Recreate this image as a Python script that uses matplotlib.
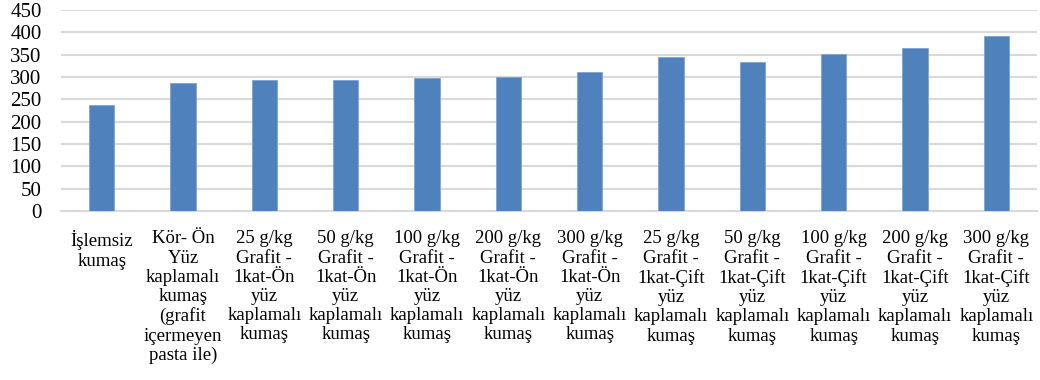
import matplotlib
matplotlib.use("Agg")
import matplotlib.pyplot as plt
import numpy as np

categories = [
    "İşlemsiz\nkumaş",
    "Kör- Ön\nYüz\nkaplamalı\nkumaş\n(grafit\niçermeyen\npasta ile)",
    "25 g/kg\nGrafit -\n1kat-Ön\nyüz\nkaplamalı\nkumaş",
    "50 g/kg\nGrafit -\n1kat-Ön\nyüz\nkaplamalı\nkumaş",
    "100 g/kg\nGrafit -\n1kat-Ön\nyüz\nkaplamalı\nkumaş",
    "200 g/kg\nGrafit -\n1kat-Ön\nyüz\nkaplamalı\nkumaş",
    "300 g/kg\nGrafit -\n1kat-Ön\nyüz\nkaplamalı\nkumaş",
    "25 g/kg\nGrafit -\n1kat-Çift\nyüz\nkaplamalı\nkumaş",
    "50 g/kg\nGrafit -\n1kat-Çift\nyüz\nkaplamalı\nkumaş",
    "100 g/kg\nGrafit -\n1kat-Çift\nyüz\nkaplamalı\nkumaş",
    "200 g/kg\nGrafit -\n1kat-Çift\nyüz\nkaplamalı\nkumaş",
    "300 g/kg\nGrafit -\n1kat-Çift\nyüz\nkaplamalı\nkumaş",
]
values = [238, 286, 293, 294, 298, 300, 312, 345, 333, 351, 364, 391]
y_ticks = [0, 50, 100, 150, 200, 250, 300, 350, 400, 450]

plt.rcParams["font.family"] = ["Liberation Serif", "DejaVu Serif"]

fig = plt.figure(figsize=(10.4, 3.8), dpi=100)
ax = fig.add_axes([61 / 1040, 1 - 211 / 380, 976 / 1040, 201 / 380])

x = np.arange(len(categories))
ax.bar(x, values, width=0.31, color="#4f81bd", edgecolor="#7fa3d3",
       linewidth=0.6, zorder=3)

ax.set_xlim(-0.5, len(categories) - 0.5)
ax.set_ylim(0, 450)
ax.set_yticks(y_ticks)
ax.set_yticklabels([str(v) for v in y_ticks], fontsize=15)
ax.set_xticks(x)
ax.set_xticklabels(categories, fontsize=13.5, linespacing=1.17)

ax.yaxis.grid(True, color="#d9d9d9", linewidth=1.5, zorder=0)
ax.set_axisbelow(True)
for side in ["left", "right", "top"]:
    ax.spines[side].set_visible(False)
ax.spines["bottom"].set_color("#d9d9d9")
ax.spines["bottom"].set_linewidth(1.5)
ax.tick_params(axis="both", length=0)
ax.tick_params(axis="y", pad=14)
ax.tick_params(axis="x", pad=14)

fig.savefig("out.png", dpi=100)
